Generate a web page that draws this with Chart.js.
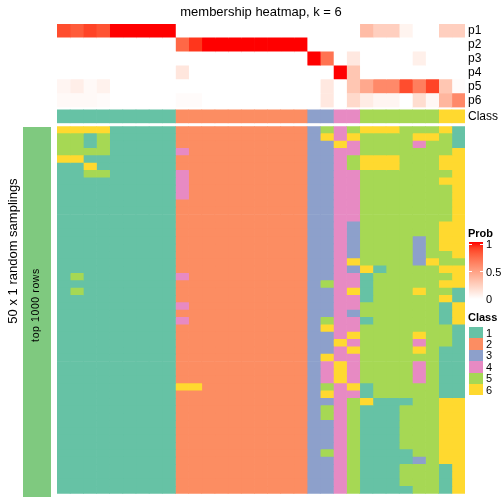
<!DOCTYPE html>
<html>
<head>
<meta charset="utf-8">
<script src="https://cdn.jsdelivr.net/npm/chart.js@4.4.1/dist/chart.umd.min.js"></script>
<style>
  body { margin: 0; background: #fff; font-family: "Liberation Sans", Arial, sans-serif; }
  #wrap { position: relative; width: 504px; height: 504px; overflow: hidden; }
  #heat { position: absolute; left: 0; top: 0; }
  .txt { position: absolute; white-space: nowrap; color: #000; line-height: 1; }
  .rot { transform-origin: center center; transform: translate(-50%, -50%) rotate(-90deg); }
</style>
</head>
<body>
<div id="wrap">
  <canvas id="heat" width="504" height="504"></canvas>
  <div class="txt" style="left:261px;top:5px;font-size:13px;transform:translateX(-50%)">membership heatmap, k = 6</div>
  <div class="txt rot" style="left:12px;top:251px;font-size:13px">50 x 1 random samplings</div>
  <div id="anno" style="position:absolute;left:23px;top:127px;width:28px;height:370px;background:#7FC97F"></div>
  <div class="txt rot" style="left:35px;top:305px;font-size:10.5px;letter-spacing:0.6px">top 1000 rows</div>
  <div id="legend"></div>
</div>
<script>
// classes and their colours (Set2)
const classLabels = ['1', '2', '3', '4', '5', '6'];
const classColors = ['#66C2A5', '#FC8D62', '#8DA0CB', '#E78AC3', '#A6D854', '#FFD92F'];

// top annotation: membership probability per sample (31 samples)
const probLabels = ['p1', 'p2', 'p3', 'p4', 'p5', 'p6'];
const p1 = [0.85, 0.8, 0.88, 0.83, 1, 1, 1, 1, 1, 0, 0, 0, 0, 0, 0, 0, 0, 0, 0, 0, 0, 0, 0, 0.35, 0.25, 0.25, 0.06, 0, 0, 0.25, 0.25];
const p2 = [0, 0, 0, 0, 0, 0, 0, 0, 0, 0.75, 0.92, 1, 1, 1, 1, 1, 1, 1, 1, 0, 0, 0, 0, 0, 0, 0, 0, 0, 0, 0, 0];
const p3 = [0, 0, 0, 0, 0, 0, 0, 0, 0, 0, 0, 0, 0, 0, 0, 0, 0, 0, 0, 1, 0.7, 0, 0.12, 0, 0, 0, 0, 0.08, 0, 0, 0];
const p4 = [0, 0, 0, 0, 0, 0, 0, 0, 0, 0.13, 0, 0, 0, 0, 0, 0, 0, 0, 0, 0, 0, 1, 0.3, 0, 0, 0, 0, 0, 0, 0, 0];
const p5 = [0.05, 0.09, 0.03, 0.07, 0, 0, 0, 0, 0, 0, 0, 0, 0, 0, 0, 0, 0, 0, 0, 0, 0.12, 0, 0.3, 0.45, 0.6, 0.6, 0.85, 0.65, 0.88, 0.3, 0.02];
const p6 = [0.03, 0.03, 0.03, 0.02, 0, 0, 0, 0, 0, 0.02, 0.02, 0, 0, 0, 0, 0, 0, 0, 0, 0, 0.12, 0, 0.2, 0.1, 0.05, 0.05, 0, 0.18, 0.04, 0.38, 0.6];
const sampleClass = [1, 1, 1, 1, 1, 1, 1, 1, 1, 2, 2, 2, 2, 2, 2, 2, 2, 2, 2, 3, 3, 4, 4, 5, 5, 5, 5, 5, 5, 6, 6];

// 50 random samplings x 31 samples, class per cell
const samplings = [
  '666611111' + '2222222222' + '354566655561',
  '551511111' + '2222222222' + '364655556651',
  '551511111' + '2222222222' + '336455554551',
  '555511111' + '4222222222' + '334455555556',
  '661111111' + '2222222222' + '334566655566',
  '116111111' + '2222222222' + '334566655566',
  '115511111' + '4222222222' + '334455555556',
  '111111111' + '4222222222' + '334455555566',
  '111111111' + '4222222222' + '334455555556',
  '111111111' + '4222222222' + '334455555556',
  '111111111' + '2222222222' + '334455555556',
  '111111111' + '2222222222' + '334455555556',
  '111111111' + '2222222222' + '334455555556',
  '111111111' + '2222222222' + '334355555566',
  '111111111' + '2222222222' + '334355555566',
  '111111111' + '2222222222' + '334355553566',
  '111111111' + '2222222222' + '334355553566',
  '111111111' + '2222222222' + '334355553556',
  '111111111' + '2222222222' + '334655553655',
  '111111111' + '2222222222' + '334361555566',
  '151111111' + '4222222222' + '334415555556',
  '111111111' + '2222222222' + '354415555566',
  '151111111' + '2222222222' + '334615556551',
  '111111111' + '2222222222' + '334415555561',
  '111111111' + '4222222222' + '334455555516',
  '111111111' + '2222222222' + '334355555516',
  '111111111' + '4222222222' + '354415555516',
  '111111111' + '2222222222' + '364455555551',
  '111111111' + '2222222222' + '334655556551',
  '111111111' + '2222222222' + '336455554551',
  '111111111' + '2222222222' + '334655556511',
  '111111111' + '2222222222' + '364455555511',
  '111111111' + '2222222222' + '346455554511',
  '111111111' + '2222222222' + '346455554511',
  '111111111' + '2222222222' + '346455554511',
  '111111111' + '6622222222' + '354615555511',
  '111111111' + '2222222222' + '364415555511',
  '111111111' + '2222222222' + '334561115566',
  '111111111' + '2222222222' + '354511155566',
  '111111111' + '2222222222' + '354511155566',
  '111111111' + '2222222222' + '334511155566',
  '111111111' + '2222222222' + '334511155566',
  '111111111' + '2222222222' + '334511155566',
  '111111111' + '2222222222' + '334511155566',
  '111111111' + '2222222222' + '354511115566',
  '111111111' + '2222222222' + '334511113566',
  '111111111' + '2222222222' + '334511155516',
  '111111111' + '2222222222' + '334511155516',
  '111111111' + '2222222222' + '334511155516',
  '111111111' + '2222222222' + '334511115516'
];

const probRows = [p1, p2, p3, p4, p5, p6];
const nCols = sampleClass.length;
const rowIds = samplings.map((s, i) => String(i + 1));

// white -> red ramp interpolated in LAB, like circlize::colorRamp2
function lin(c) { c /= 255; return c <= 0.04045 ? c / 12.92 : Math.pow((c + 0.055) / 1.055, 2.4); }
function gam(c) {
  const v = c <= 0.0031308 ? 12.92 * c : 1.055 * Math.pow(c, 1 / 2.4) - 0.055;
  return Math.round(Math.max(0, Math.min(1, v)) * 255);
}
function toLab(rgb) {
  const [r, g, b] = rgb.map(lin);
  const x = (0.4124 * r + 0.3576 * g + 0.1805 * b) / 0.95047;
  const y = 0.2126 * r + 0.7152 * g + 0.0722 * b;
  const z = (0.0193 * r + 0.1192 * g + 0.9505 * b) / 1.08883;
  const f = t => t > 0.008856 ? Math.cbrt(t) : 7.787 * t + 16 / 116;
  return [116 * f(y) - 16, 500 * (f(x) - f(y)), 200 * (f(y) - f(z))];
}
function fromLab([L, a, b]) {
  const fy = (L + 16) / 116, fx = fy + a / 500, fz = fy - b / 200;
  const fi = t => t * t * t > 0.008856 ? t * t * t : (t - 16 / 116) / 7.787;
  const x = fi(fx) * 0.95047, y = fi(fy), z = fi(fz) * 1.08883;
  const r = 3.2406 * x - 1.5372 * y - 0.4986 * z;
  const g = -0.9689 * x + 1.8758 * y + 0.0415 * z;
  const bl = 0.0557 * x - 0.2040 * y + 1.0570 * z;
  return 'rgb(' + gam(r) + ',' + gam(g) + ',' + gam(bl) + ')';
}
const labLo = toLab([255, 255, 255]);
const labHi = toLab([255, 0, 0]);
function probColor(v) {
  return fromLab(labLo.map((l, i) => l + (labHi[i] - l) * v));
}

// one cell per sample: fill the whole category band, no grouping
const cell = { barPercentage: 1, categoryPercentage: 1, borderWidth: 0, grouped: false };
const datasets = [];
for (let c = 0; c < nCols; c++) {
  datasets.push({
    ...cell,
    yAxisID: 'yProb',
    data: probRows.map(() => 1),
    backgroundColor: probRows.map(r => probColor(r[c])),
  });
  datasets.push({
    ...cell,
    yAxisID: 'yClass',
    data: [1],
    backgroundColor: [classColors[sampleClass[c] - 1]],
  });
  datasets.push({
    ...cell,
    yAxisID: 'yBot',
    data: samplings.map(() => 1),
    backgroundColor: samplings.map(s => classColors[+s[c] - 1]),
  });
}

const fixWidth = s => { s.width = 39; };
const rowAxis = (labels, weight, stackWeight, showTicks) => ({
  type: 'category',
  labels,
  position: 'right',
  stack: 'rows',
  stacked: true,
  weight,
  stackWeight,
  offset: true,
  grid: { display: false, drawTicks: false },
  border: { display: false },
  ticks: {
    display: showTicks, autoSkip: false, padding: 3, color: '#000',
    font: { size: 12, family: '"Liberation Sans", Arial, sans-serif' }
  },
  afterFit: fixWidth,
});

new Chart(document.getElementById('heat'), {
  type: 'bar',
  data: { datasets },
  options: {
    indexAxis: 'y',
    responsive: false,
    animation: false,
    events: [],
    layout: { padding: { left: 57, top: 24, right: 0, bottom: 7 } },
    plugins: { legend: { display: false }, tooltip: { enabled: false }, title: { display: false } },
    scales: {
      x: { type: 'linear', stacked: true, min: 0, max: nCols, display: false },
      yProb: rowAxis(probLabels, 1, 84, true),
      yGap1: rowAxis([''], 2, 2, false),
      yClass: rowAxis(['Class'], 3, 14, true),
      yGap2: rowAxis([''], 4, 3, false),
      yBot: rowAxis(rowIds, 5, 370, false),
    },
  },
});

// legends (Prob gradient + Class swatches)
const lg = document.getElementById('legend');
let stops = [];
for (let i = 0; i <= 10; i++) stops.push(probColor(1 - i / 10) + ' ' + (i * 10) + '%');
lg.innerHTML =
  '<div class="txt" style="left:468px;top:228px;font-size:11px;font-weight:bold">Prob</div>' +
  '<div style="position:absolute;left:469px;top:242px;width:14px;height:57px;background:linear-gradient(' + stops.join(',') + ')"></div>' +
  '<div style="position:absolute;left:469px;top:244px;width:3px;height:1px;background:#fff"></div>' +
  '<div style="position:absolute;left:480px;top:244px;width:3px;height:1px;background:#fff"></div>' +
  '<div style="position:absolute;left:469px;top:271px;width:3px;height:1px;background:#fff"></div>' +
  '<div style="position:absolute;left:480px;top:271px;width:3px;height:1px;background:#fff"></div>' +
  '<div class="txt" style="left:486px;top:239px;font-size:11px">1</div>' +
  '<div class="txt" style="left:486px;top:267px;font-size:11px">0.5</div>' +
  '<div class="txt" style="left:486px;top:294px;font-size:11px">0</div>' +
  '<div class="txt" style="left:468px;top:312px;font-size:11px;font-weight:bold">Class</div>' +
  classLabels.map((l, i) =>
    '<div style="position:absolute;left:469px;top:' + (327 + i * 11.4) + 'px;width:14px;height:11.4px;background:' + classColors[i] + '"></div>' +
    '<div class="txt" style="left:486px;top:' + (327 + i * 11.4 + 0.5) + 'px;font-size:11px">' + l + '</div>'
  ).join('');
</script>
</body>
</html>
